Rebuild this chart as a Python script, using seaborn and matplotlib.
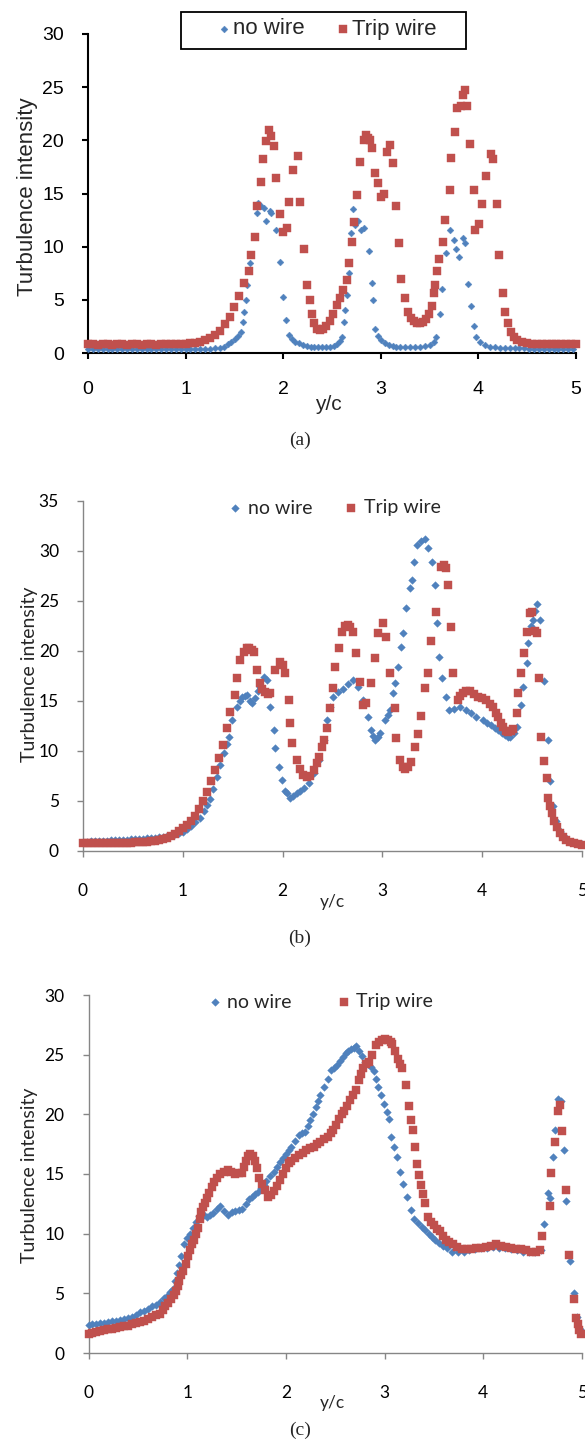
import matplotlib
matplotlib.use("Agg")
import matplotlib.pyplot as plt
import seaborn as sns
import pandas as pd
from matplotlib.patches import Rectangle
from matplotlib.font_manager import FontProperties

# ---------------- data (y/c, turbulence intensity) ----------------
A_NOWIRE = [(0.00,0.4),(0.05,0.4),(0.10,0.4),(0.15,0.4),(0.20,0.4),(0.25,0.4),(0.30,0.4),(0.35,0.4),(0.40,0.4),
            (0.45,0.4),(0.50,0.4),(0.55,0.4),(0.60,0.4),(0.65,0.4),(0.70,0.4),(0.75,0.4),(0.80,0.4),(0.85,0.4),
            (0.90,0.4),(0.95,0.4),(1.00,0.4),(1.05,0.4),(1.10,0.4),(1.15,0.4),(1.20,0.4),(1.25,0.4),(1.30,0.45),
            (1.35,0.5),(1.39,0.6),(1.43,0.8),(1.47,1.0),(1.51,1.3),(1.54,1.6),(1.57,2.0),(1.59,2.9),(1.60,3.9),
            (1.62,5.0),(1.63,6.4),(1.66,8.5),(1.70,11.0),(1.73,13.2),(1.74,14.1),(1.77,13.8),(1.80,13.6),(1.82,12.4),
            (1.86,13.4),(1.88,13.2),(1.93,11.6),(1.97,8.6),(2.00,5.3),(2.03,3.1),(2.06,1.7),(2.09,1.3),(2.12,1.06),
            (2.16,0.9),(2.20,0.75),(2.24,0.65),(2.28,0.6),(2.32,0.55),(2.36,0.55),(2.40,0.55),(2.44,0.55),(2.48,0.6),
            (2.52,0.7),(2.55,0.8),(2.58,1.1),(2.60,1.5),(2.62,2.9),(2.63,4.0),(2.65,5.5),(2.67,7.5),(2.69,11.3),
            (2.72,13.5),(2.74,12.0),(2.77,12.4),(2.80,11.6),(2.83,11.8),(2.88,9.6),(2.91,6.6),(2.92,5.0),(2.94,2.3),
            (2.97,1.6),(3.00,1.2),(3.04,0.9),(3.08,0.75),(3.12,0.65),(3.16,0.6),(3.20,0.6),(3.25,0.55),(3.30,0.55),
            (3.35,0.6),(3.40,0.6),(3.45,0.65),(3.50,0.75),(3.54,1.0),(3.57,1.5),(3.61,3.7),(3.63,6.0),(3.67,9.4),
            (3.71,11.6),(3.75,10.6),(3.77,9.8),(3.80,9.0),(3.84,10.8),(3.86,10.3),(3.89,6.5),(3.92,4.4),(3.95,2.5),
            (3.98,1.5),(4.02,1.0),(4.07,0.75),(4.12,0.6),(4.17,0.55),(4.22,0.5),(4.27,0.5),(4.32,0.45),(4.37,0.45),
            (4.42,0.45),(4.47,0.45),(4.52,0.4),(4.57,0.4),(4.62,0.4),(4.67,0.4),(4.72,0.4),(4.77,0.4),(4.82,0.4),
            (4.87,0.4),(4.92,0.4),(4.97,0.4)]

A_TRIP = [(0.00,0.8),(0.05,0.8),(0.10,0.75),(0.15,0.8),(0.20,0.8),(0.25,0.75),(0.30,0.8),(0.35,0.8),(0.40,0.75),
          (0.45,0.8),(0.50,0.8),(0.55,0.75),(0.60,0.8),(0.65,0.8),(0.70,0.75),(0.75,0.8),(0.80,0.8),(0.85,0.8),
          (0.90,0.8),(0.95,0.85),(1.00,0.85),(1.05,0.9),(1.10,0.95),(1.15,1.05),(1.20,1.2),(1.25,1.4),(1.30,1.7),
          (1.35,2.1),(1.40,2.7),(1.45,3.4),(1.50,4.3),(1.55,5.4),(1.60,6.6),(1.65,7.7),(1.67,9.2),(1.71,10.9),
          (1.73,13.8),(1.77,16.1),(1.79,18.2),(1.82,19.9),(1.85,21.0),(1.87,20.4),(1.91,19.5),(1.93,16.5),
          (1.97,13.1),(2.00,11.4),(2.04,11.8),(2.06,14.2),(2.10,17.2),(2.15,18.5),(2.17,14.2),(2.21,9.8),(2.24,6.4),
          (2.27,5.0),(2.29,3.7),(2.32,2.8),(2.35,2.3),(2.38,2.2),(2.41,2.3),(2.44,2.5),(2.48,3.0),(2.51,3.7),
          (2.55,4.5),(2.58,5.2),(2.61,5.9),(2.65,6.9),(2.67,8.5),(2.71,10.4),(2.73,12.3),(2.76,14.9),(2.79,18.0),
          (2.83,20.0),(2.85,20.5),(2.87,20.2),(2.89,20.0),(2.91,19.3),(2.94,16.9),(2.97,16.0),(3.00,14.7),
          (3.03,15.0),(3.06,18.9),(3.09,19.6),(3.13,17.9),(3.16,13.8),(3.19,10.3),(3.21,7.0),(3.25,5.2),(3.28,3.9),
          (3.31,3.3),(3.34,3.0),(3.37,2.8),(3.40,2.8),(3.43,2.9),(3.46,3.2),(3.49,3.7),(3.52,4.4),(3.54,5.6),
          (3.56,6.4),(3.58,7.7),(3.60,8.8),(3.64,10.4),(3.66,12.5),(3.71,15.3),(3.72,18.3),(3.76,20.8),(3.78,23.0),
          (3.82,23.2),(3.84,24.3),(3.86,24.7),(3.88,23.2),(3.91,19.7),(3.95,15.3),(3.97,11.6),(4.01,12.1),
          (4.04,14.0),(4.08,16.6),(4.13,18.7),(4.15,18.2),(4.19,14.0),(4.21,9.2),(4.25,5.6),(4.27,3.9),(4.30,2.8),
          (4.33,2.0),(4.36,1.5),(4.40,1.2),(4.45,1.0),(4.50,0.9),(4.55,0.85),(4.60,0.8),(4.65,0.8),(4.70,0.8),
          (4.75,0.8),(4.80,0.8),(4.85,0.8),(4.90,0.8),(4.95,0.8),(5.00,0.8)]

B_NOWIRE = [(0.00,0.9),(0.04,0.9),(0.08,0.95),(0.12,0.95),(0.16,1.0),(0.20,1.0),(0.24,1.0),(0.28,1.05),(0.32,1.05),
            (0.36,1.1),(0.40,1.1),(0.44,1.1),(0.48,1.15),(0.52,1.15),(0.56,1.2),(0.60,1.2),(0.64,1.25),(0.68,1.3),
            (0.72,1.3),(0.76,1.35),(0.80,1.4),(0.84,1.5),(0.88,1.6),(0.92,1.7),(0.96,1.8),(1.00,1.9),(1.04,2.2),
            (1.08,2.5),(1.12,2.9),(1.17,3.3),(1.21,4.0),(1.24,4.6),(1.27,5.2),(1.30,6.2),(1.34,7.4),(1.37,8.6),
            (1.41,9.8),(1.44,10.7),(1.46,11.4),(1.49,13.1),(1.54,14.4),(1.57,15.0),(1.59,15.4),(1.62,15.5),
            (1.64,15.6),(1.67,15.0),(1.69,14.8),(1.72,15.3),(1.75,16.0),(1.77,16.4),(1.81,17.4),(1.84,17.1),
            (1.87,14.4),(1.91,12.1),(1.92,10.3),(1.96,8.4),(1.99,7.1),(2.02,6.0),(2.04,5.8),(2.07,5.3),(2.10,5.5),
            (2.14,5.8),(2.17,6.0),(2.21,6.3),(2.26,6.8),(2.31,7.8),(2.36,9.1),(2.41,11.1),(2.44,13.1),(2.47,14.4),
            (2.51,15.4),(2.56,15.9),(2.61,16.2),(2.66,16.7),(2.71,17.1),(2.76,16.4),(2.81,15.1),(2.86,13.4),
            (2.89,12.1),(2.91,11.5),(2.93,11.1),(2.96,11.4),(2.98,11.8),(3.03,13.1),(3.06,13.6),(3.08,14.1),
            (3.11,15.8),(3.13,16.8),(3.16,18.4),(3.19,20.4),(3.21,21.8),(3.24,24.3),(3.28,26.3),(3.30,27.1),
            (3.32,28.9),(3.35,30.6),(3.39,31.0),(3.43,31.2),(3.46,30.3),(3.50,28.9),(3.53,26.6),(3.55,22.8),
            (3.57,19.4),(3.60,17.3),(3.64,15.4),(3.67,14.1),(3.72,14.2),(3.78,14.4),(3.84,14.1),(3.89,13.8),
            (3.94,13.4),(4.01,13.1),(4.05,12.8),(4.09,12.6),(4.13,12.3),(4.16,12.1),(4.20,11.8),(4.23,11.6),
            (4.26,11.4),(4.28,11.4),(4.32,11.8),(4.35,12.4),(4.39,14.6),(4.41,16.4),(4.45,18.8),(4.46,20.8),
            (4.49,22.5),(4.51,23.1),(4.53,24.0),(4.55,24.7),(4.58,23.1),(4.62,17.0),(4.66,11.1),(4.68,7.0),
            (4.71,4.5),(4.74,3.0),(4.78,2.0),(4.82,1.5),(4.86,1.1),(4.90,0.9),(4.95,0.8),(5.00,0.7)]

B_TRIP = [(0.00,0.8),(0.04,0.8),(0.08,0.75),(0.12,0.8),(0.16,0.75),(0.20,0.8),(0.24,0.75),(0.28,0.8),(0.32,0.75),
          (0.36,0.8),(0.40,0.8),(0.44,0.8),(0.48,0.8),(0.52,0.85),(0.56,0.85),(0.60,0.9),(0.64,0.9),(0.68,0.95),
          (0.72,1.0),(0.76,1.05),(0.80,1.15),(0.84,1.3),(0.88,1.5),(0.92,1.7),(0.96,2.0),(1.00,2.3),(1.04,2.6),
          (1.08,3.0),(1.12,3.5),(1.16,4.2),(1.20,5.0),(1.24,5.9),(1.28,7.0),(1.32,8.1),(1.36,9.3),(1.40,10.6),
          (1.44,12.3),(1.47,13.9),(1.52,15.6),(1.54,17.3),(1.57,19.1),(1.61,19.9),(1.64,20.3),(1.66,20.3),
          (1.69,20.1),(1.71,19.9),(1.74,18.1),(1.77,16.8),(1.79,16.2),(1.82,15.9),(1.85,15.7),(1.87,15.8),
          (1.92,18.1),(1.97,18.9),(2.00,18.6),(2.02,17.8),(2.06,15.1),(2.07,12.8),(2.09,10.8),(2.14,9.1),
          (2.17,8.2),(2.20,7.6),(2.24,7.4),(2.27,7.5),(2.31,8.1),(2.34,8.8),(2.36,9.4),(2.39,10.4),(2.41,11.1),
          (2.44,12.3),(2.47,14.3),(2.50,16.3),(2.53,18.4),(2.57,20.3),(2.60,21.9),(2.63,22.5),(2.66,22.6),
          (2.68,22.4),(2.71,21.9),(2.74,19.8),(2.78,16.9),(2.81,14.6),(2.84,14.8),(2.89,16.8),(2.93,19.3),
          (2.96,21.8),(3.01,22.8),(3.04,21.4),(3.08,17.8),(3.13,14.3),(3.14,11.3),(3.18,9.1),(3.21,8.4),
          (3.23,8.2),(3.26,8.4),(3.29,8.9),(3.33,10.4),(3.36,11.7),(3.39,13.5),(3.43,16.3),(3.46,17.8),
          (3.49,21.0),(3.54,23.9),(3.59,28.4),(3.62,28.6),(3.64,28.3),(3.66,26.6),(3.69,22.4),(3.71,17.8),
          (3.76,15.1),(3.78,15.5),(3.81,15.8),(3.84,16.0),(3.88,16.0),(3.92,15.7),(3.96,15.4),(4.00,15.3),
          (4.04,15.1),(4.08,14.7),(4.11,14.4),(4.14,13.8),(4.16,13.4),(4.19,12.8),(4.21,12.4),(4.24,12.0),
          (4.26,11.9),(4.29,12.0),(4.31,12.2),(4.35,13.8),(4.36,15.8),(4.39,17.8),(4.42,19.8),(4.45,21.9),
          (4.48,23.8),(4.50,23.9),(4.53,22.0),(4.55,21.8),(4.57,17.3),(4.59,11.4),(4.62,9.0),(4.65,7.3),
          (4.66,5.3),(4.68,4.5),(4.70,3.8),(4.72,3.0),(4.75,2.4),(4.78,1.8),(4.81,1.4),(4.84,1.1),(4.88,0.9),
          (4.92,0.75),(4.96,0.65),(5.00,0.6)]

C_NOWIRE = [(0.00,2.35),(0.04,2.4),(0.08,2.45),(0.12,2.5),(0.16,2.55),(0.20,2.6),(0.24,2.65),(0.28,2.7),(0.32,2.8),
            (0.36,2.85),(0.40,2.95),(0.44,3.05),(0.48,3.2),(0.52,3.4),(0.56,3.5),(0.60,3.7),(0.64,3.9),(0.68,4.0),
            (0.72,4.3),(0.76,4.6),(0.80,4.8),(0.83,5.1),(0.86,5.4),(0.88,6.0),(0.90,6.7),(0.92,7.4),(0.94,8.1),
            (0.97,9.1),(1.00,9.6),(1.03,10.0),(1.06,10.5),(1.09,11.0),(1.12,11.5),(1.14,11.7),(1.17,11.6),
            (1.20,11.4),(1.23,11.6),(1.26,11.7),(1.30,12.1),(1.33,12.3),(1.37,11.9),(1.41,11.6),(1.45,11.8),
            (1.48,11.9),(1.52,12.0),(1.56,12.1),(1.60,12.5),(1.63,12.9),(1.66,13.1),(1.69,13.3),(1.72,13.5),
            (1.75,13.8),(1.78,14.1),(1.80,14.4),(1.84,14.8),(1.88,15.2),(1.91,15.6),(1.94,16.0),(1.97,16.3),
            (2.00,16.7),(2.03,17.0),(2.05,17.3),(2.09,17.8),(2.13,18.3),(2.16,18.4),(2.19,18.5),(2.22,19.0),
            (2.24,19.5),(2.27,20.0),(2.30,20.6),(2.33,21.1),(2.35,21.6),(2.39,22.3),(2.43,23.0),(2.46,23.7),
            (2.49,23.9),(2.52,24.1),(2.55,24.5),(2.58,24.8),(2.61,25.1),(2.63,25.3),(2.66,25.5),(2.69,25.6),
            (2.71,25.7),(2.74,25.3),(2.77,24.9),(2.80,24.4),(2.83,24.2),(2.86,24.0),(2.89,23.6),(2.91,23.0),
            (2.93,22.3),(2.96,21.6),(2.99,20.9),(3.02,20.2),(3.04,19.6),(3.06,18.1),(3.10,17.3),(3.13,16.4),
            (3.16,15.2),(3.19,14.2),(3.23,13.1),(3.27,12.0),(3.30,11.2),(3.34,10.9),(3.38,10.6),(3.41,10.3),
            (3.45,10.0),(3.48,9.7),(3.51,9.5),(3.55,9.2),(3.59,9.0),(3.63,8.8),(3.68,8.5),(3.74,8.5),(3.80,8.5),
            (3.86,8.6),(3.92,8.7),(3.98,8.8),(4.04,8.8),(4.10,8.9),(4.16,8.8),(4.22,8.8),(4.28,8.7),(4.34,8.6),
            (4.40,8.5),(4.46,8.5),(4.52,8.5),(4.58,8.6),(4.62,10.8),(4.66,13.4),(4.68,13.0),(4.71,16.4),
            (4.73,18.7),(4.76,21.3),(4.79,21.1),(4.82,17.0),(4.84,12.7),(4.88,7.7),(4.92,5.0),(4.95,3.0),(4.98,2.0)]

C_TRIP = [(0.00,1.6),(0.04,1.7),(0.08,1.8),(0.12,1.85),(0.16,1.9),(0.20,2.0),(0.24,2.05),(0.28,2.1),(0.32,2.2),
          (0.36,2.25),(0.40,2.3),(0.44,2.4),(0.48,2.5),(0.52,2.6),(0.56,2.7),(0.60,2.85),(0.64,3.0),(0.68,3.15),
          (0.72,3.3),(0.75,3.6),(0.78,3.9),(0.81,4.2),(0.84,4.5),(0.87,4.9),(0.89,5.2),(0.91,5.6),(0.92,6.0),
          (0.94,6.5),(0.96,6.9),(0.99,7.5),(1.01,8.1),(1.03,8.6),(1.05,9.1),(1.07,9.5),(1.09,10.0),(1.11,10.5),
          (1.13,11.2),(1.14,11.8),(1.16,12.2),(1.18,12.6),(1.20,13.0),(1.22,13.4),(1.25,13.9),(1.27,14.3),
          (1.30,14.7),(1.33,15.0),(1.37,15.2),(1.41,15.3),(1.44,15.2),(1.48,15.0),(1.52,15.1),(1.56,15.1),
          (1.58,15.6),(1.60,16.1),(1.62,16.5),(1.64,16.7),(1.67,16.5),(1.69,16.1),(1.71,15.5),(1.73,14.7),
          (1.76,14.2),(1.79,13.7),(1.82,13.1),(1.85,13.2),(1.88,13.6),(1.91,14.0),(1.94,14.5),(1.97,15.0),
          (2.00,15.5),(2.03,15.9),(2.05,16.1),(2.09,16.3),(2.13,16.6),(2.17,16.8),(2.20,17.0),(2.24,17.2),
          (2.28,17.3),(2.32,17.5),(2.35,17.7),(2.39,17.9),(2.43,18.1),(2.46,18.4),(2.48,18.7),(2.51,19.1),
          (2.54,19.6),(2.57,20.0),(2.59,20.3),(2.62,20.7),(2.65,21.2),(2.68,21.6),(2.71,22.0),(2.74,22.9),
          (2.76,23.4),(2.78,23.9),(2.81,24.2),(2.84,24.4),(2.87,25.0),(2.91,25.8),(2.94,26.1),(2.97,26.2),
          (3.00,26.3),(3.03,26.2),(3.06,26.1),(3.08,25.9),(3.11,25.3),(3.14,24.6),(3.16,24.2),(3.18,23.9),
          (3.22,22.5),(3.25,20.7),(3.27,19.5),(3.29,18.7),(3.31,17.3),(3.33,15.8),(3.35,14.9),(3.37,14.1),
          (3.39,13.3),(3.41,12.6),(3.44,11.4),(3.47,11.0),(3.50,10.7),(3.53,10.4),(3.56,10.2),(3.59,9.8),
          (3.62,9.5),(3.65,9.3),(3.69,9.1),(3.73,8.9),(3.78,8.7),(3.83,8.7),(3.88,8.7),(3.93,8.8),(3.98,8.8),
          (4.03,8.9),(4.08,9.0),(4.13,9.1),(4.18,9.0),(4.23,8.9),(4.28,8.8),(4.33,8.7),(4.38,8.7),(4.43,8.6),
          (4.48,8.5),(4.53,8.5),(4.57,8.6),(4.59,9.8),(4.68,12.3),(4.69,15.1),(4.73,17.7),(4.76,20.3),
          (4.78,20.8),(4.80,18.6),(4.84,13.7),(4.87,8.2),(4.92,4.5),(4.94,2.9),(4.96,2.4),(4.97,1.9),(4.99,1.6)]

SERIES_LABELS = ["no wire", "Trip wire"]
X_TICKS = [0, 1, 2, 3, 4, 5]
Y_TICKS_A = [0, 5, 10, 15, 20, 25, 30]
Y_TICKS_B = [0, 5, 10, 15, 20, 25, 30, 35]
Y_TICKS_C = [0, 5, 10, 15, 20, 25, 30]
X_LABEL = "y/c"
Y_LABEL = "Turbulence intensity"
CAPTIONS = ["(a)", "(b)", "(c)"]

# ---------------- styling ----------------
W, H = 585, 1447
BLUE = "#4F81BD"
RED = "#C0504D"

sns.set_theme(style="ticks")
plt.rcParams["font.family"] = ["Liberation Sans", "DejaVu Sans"]

fig = plt.figure(figsize=(W / 100, H / 100), dpi=100)
fig.patch.set_facecolor("white")


def rect(x0, x5, y0, ytop):
    return [x0 / W, 1 - y0 / H, (x5 - x0) / W, (y0 - ytop) / H]


def to_df(pairs):
    return pd.DataFrame(pairs, columns=["yc", "ti"])


def panel(ax, nowire, trip, ylim, yticks, s_blue, s_red, spine_color, spine_w,
          tick_font, tick_size, xpad, ypad):
    sns.scatterplot(data=to_df(nowire), x="yc", y="ti", ax=ax, marker="D", s=s_blue,
                    color=BLUE, edgecolor=BLUE, linewidth=0.3, label=SERIES_LABELS[0],
                    legend=False, clip_on=False, zorder=3)
    sns.scatterplot(data=to_df(trip), x="yc", y="ti", ax=ax, marker="s", s=s_red,
                    color=RED, edgecolor=RED, linewidth=0.3, label=SERIES_LABELS[1],
                    legend=False, clip_on=False, zorder=4)
    ax.set_xlim(0, 5)
    ax.set_ylim(*ylim)
    ax.set_xticks(X_TICKS)
    ax.set_yticks(yticks)
    ax.set_xticklabels([str(t) for t in X_TICKS])
    ax.set_yticklabels([str(t) for t in yticks])
    for side in ["top", "right"]:
        ax.spines[side].set_visible(False)
    for side in ["left", "bottom"]:
        ax.spines[side].set_color(spine_color)
        ax.spines[side].set_linewidth(spine_w)
    ax.tick_params(axis="both", direction="out", length=4.3, width=spine_w, color=spine_color)
    ax.tick_params(axis="x", pad=xpad)
    ax.tick_params(axis="y", pad=ypad)
    for lab in ax.get_xticklabels() + ax.get_yticklabels():
        lab.set_fontfamily(tick_font)
        lab.set_fontsize(tick_size)
        lab.set_color("black")
    ax.set_xlabel("")
    ax.set_ylabel("")
    ax.set_facecolor("none")
    ax.grid(False)


def legend(ax, font, size, marker_x, y, hlen, htp, cspace):
    handles = ax.collections[:2]
    fs_px = size / 72 * 100
    left = marker_x - hlen * fs_px / 2
    ax.legend(handles=handles, labels=SERIES_LABELS, loc="center left",
              bbox_to_anchor=(left / W, 1 - y / H), bbox_transform=fig.transFigure,
              ncol=2, frameon=False, borderpad=0, borderaxespad=0,
              handlelength=hlen, handletextpad=htp, columnspacing=cspace,
              prop=FontProperties(family=font, size=size), scatterpoints=1)


# ---------------- panel (a) ----------------
axA = fig.add_axes(rect(88, 576, 353, 34))
panel(axA, A_NOWIRE, A_TRIP, (0, 30), Y_TICKS_A, 12, 34, "black", 1.5,
      "Liberation Sans", 14, 16, 13)
legend(axA, "Liberation Sans", 16, 224, 29, 0.6, 0.1, 1.45)
fig.add_artist(Rectangle((181 / W, 1 - 49 / H), 285 / W, 37 / H, transform=fig.transFigure,
                         fill=False, edgecolor="black", linewidth=1.3))
fig.text(28 / W, 1 - 197 / H, Y_LABEL, rotation=90, ha="center", va="center",
         fontsize=16, family="Liberation Sans")
fig.text(328 / W, 1 - 405 / H, X_LABEL, ha="center", va="center",
         fontsize=15, family="Liberation Sans")
fig.text(300 / W, 1 - 440 / H, CAPTIONS[0], ha="center", va="center",
         fontsize=14, family="Liberation Serif")

# ---------------- panel (b) ----------------
axB = fig.add_axes(rect(83, 582, 851, 501))
panel(axB, B_NOWIRE, B_TRIP, (0, 35), Y_TICKS_B, 15, 27, "#868686", 1.0,
      "Lato", 12.5, 19, 13)
legend(axB, "Lato", 14, 235, 508, 0.6, 0.37, 1.7)
fig.text(30 / W, 1 - 674 / H, Y_LABEL, rotation=90, ha="center", va="center",
         fontsize=14, family="Lato")
fig.text(332 / W, 1 - 902 / H, X_LABEL, ha="center", va="center",
         fontsize=12.5, family="Lato")
fig.text(300 / W, 1 - 938 / H, CAPTIONS[1], ha="center", va="center",
         fontsize=14, family="Liberation Serif")

# ---------------- panel (c) ----------------
axC = fig.add_axes(rect(88.5, 582, 1353, 995))
panel(axC, C_NOWIRE, C_TRIP, (0, 30), Y_TICKS_C, 15, 29, "#868686", 1.0,
      "Lato", 12.5, 19, 13)
legend(axC, "Lato", 14, 215, 1002, 0.6, 0.32, 2.4)
fig.text(30 / W, 1 - 1175 / H, Y_LABEL, rotation=90, ha="center", va="center",
         fontsize=14, family="Lato")
fig.text(332 / W, 1 - 1403 / H, X_LABEL, ha="center", va="center",
         fontsize=12.5, family="Lato")
fig.text(300 / W, 1 - 1430 / H, CAPTIONS[2], ha="center", va="center",
         fontsize=14, family="Liberation Serif")

fig.savefig("out.png", dpi=100, facecolor="white")
